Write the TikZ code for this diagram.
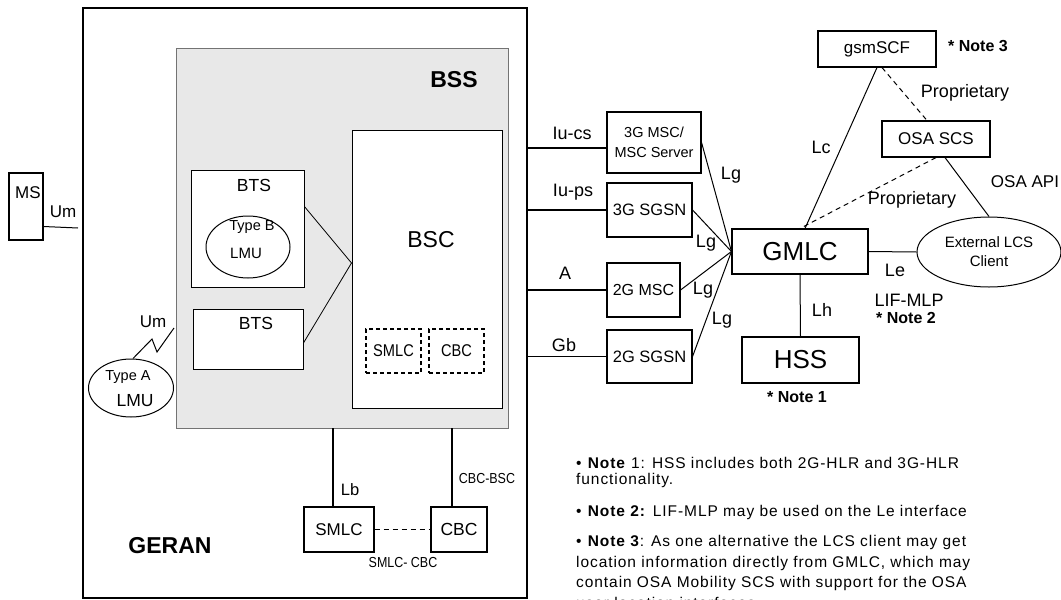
\documentclass[tikz,border=0pt]{standalone}
\usepackage{fontspec}
\setmainfont{Liberation Sans}
\newfontfamily\condf[FakeStretch=0.86]{Liberation Sans}
\newfontfamily\notef[LetterSpace=6]{Liberation Sans}
\usetikzlibrary{shapes.geometric}
\newcommand\fsz[1]{\fontsize{#1}{#1}\selectfont}
\begin{document}
\begin{tikzpicture}[x=1pt,y=-1pt,
 box/.style={draw,line width=1.1pt,fill=white,inner sep=0pt,rectangle},
 dbox/.style={draw,line width=1.1pt,dash pattern=on 4pt off 3pt,inner sep=0pt,fill=white,rectangle},
 oval/.style={draw,ellipse,line width=1pt,inner sep=0pt,fill=white},
 lbl/.style={inner sep=0pt,font=\fsz{18}},
 sml/.style={inner sep=0pt,font=\condf\fsz{14.5}},
 ln/.style={line width=1pt},
 dln/.style={line width=1pt,dash pattern=on 5pt off 4pt},
 note/.style={inner sep=0pt,anchor=west,font=\notef\fsz{15.5}}]
\useasboundingbox (0,0) rectangle (1061,600);
\clip (0,0) rectangle (1061,600);
% containers
\node[draw,line width=1.4pt,inner sep=0pt,minimum width=444pt,minimum height=590pt] (geran) at (305,303) {};
\node[draw=black!55,line width=0.8pt,fill=black!9,inner sep=0pt,minimum width=332pt,minimum height=380pt] (bss) at (342,238) {};
\node[inner sep=0pt,font=\bfseries\fsz{23}] (bsslbl) at (454,80) {BSS};
\node[inner sep=0pt,font=\bfseries\fsz{23}] (geranlbl) at (170,546) {GERAN};
% MS
\node[box,minimum width=34pt,minimum height=67pt] (ms) at (26,206.5) {};
\node[lbl,font=\fsz{17}] (mslbl) at (28,193) {MS};
\node[lbl,font=\fsz{17}] (um1) at (63,212) {Um};
\coordinate (msend) at (78,228);
\draw[ln] ([yshift=-20pt]ms.east) -- (msend);
% BTS
\node[box,line width=0.9pt,minimum width=113pt,minimum height=117pt] (bts1) at (247.5,228.5) {};
\node[lbl,font=\fsz{17.5}] (bts1lbl) at (254,185) {BTS};
\node[oval,minimum width=84pt,minimum height=62pt] (typeb) at (248,247) {};
\node[lbl,font=\fsz{14.5}] (typeblbl) at (252,227) {Type B};
\node[lbl,font=\fsz{15}] (lmub) at (246,253) {LMU};
\node[box,line width=0.9pt,minimum width=110pt,minimum height=60pt] (bts2) at (248,339) {};
\node[lbl,font=\fsz{17.5}] (bts2lbl) at (256,323) {BTS};
% BSC
\node[box,line width=1pt,minimum width=150pt,minimum height=278pt] (bsc) at (427,269) {};
\node[lbl,font=\fsz{23}] (bsclbl) at (431,240) {BSC};
\node[dbox,minimum width=55pt,minimum height=44pt,font=\condf\fsz{17}] (smlcin) at (393.5,351) {SMLC};
\node[dbox,minimum width=55pt,minimum height=44pt,font=\condf\fsz{17}] (cbcin) at (456.5,351) {CBC};
\draw[ln,line width=0.8pt] ([yshift=-37pt]bts1.north east) -- ([yshift=6pt]bsc.west);
\draw[ln,line width=0.8pt] ([yshift=-4pt]bts2.east) -- ([yshift=6pt]bsc.west);
% Type A LMU
\node[oval,minimum width=85pt,minimum height=58pt] (typea) at (131,388) {};
\node[lbl,font=\fsz{14.5}] (typealbl) at (128,377) {Type A};
\node[lbl,font=\fsz{17.5}] (lmua) at (135,401) {LMU};
\coordinate (zz) at (174,328);
\draw[ln] ([xshift=2pt]typea.north) -- (152,339) -- (157,352) -- (zz);
\node[lbl,font=\fsz{17}] (um2) at (153,322) {Um};
% SMLC / CBC
\node[box,minimum width=70pt,minimum height=45pt,font=\fsz{17}] (smlc) at (339,529.5) {SMLC};
\node[box,minimum width=56pt,minimum height=45pt,font=\fsz{17.5}] (cbc) at (459,529.5) {CBC};
\draw[line width=1.4pt] ([xshift=-6pt]smlc.north) -- ([xshift=-6pt]smlc.north |- bss.south);
\draw[line width=1.4pt] ([xshift=-7pt]cbc.north) -- ([xshift=-7pt]cbc.north |- bss.south);
\draw[dln] (smlc.east) -- (cbc.west);
\node[lbl,font=\fsz{16.5}] (lb) at (350,490) {Lb};
\node[sml] (cbcbsc) at (487,479) {CBC-BSC};
\node[sml] (smlccbc) at (403,563) {SMLC- CBC};
% core nodes
\node[box,minimum width=94pt,minimum height=61pt,align=center,font=\fsz{14.5}] (msc3g) at (654,142.5) {3G MSC/\\[5pt]MSC Server};
\node[box,minimum width=85pt,minimum height=54pt,font=\fsz{16.5}] (sgsn3g) at (649.5,210) {3G SGSN};
\node[box,minimum width=73pt,minimum height=54pt,font=\fsz{16}] (msc2g) at (643.5,290) {2G MSC};
\node[box,minimum width=85pt,minimum height=53pt,font=\fsz{16.5}] (sgsn2g) at (649.5,356.5) {2G SGSN};
\draw[line width=1.2pt] (msc3g.west |- 0,148) -- (geran.east |- 0,148);
\draw[line width=1.2pt] (sgsn3g.west) -- (sgsn3g.west -| geran.east);
\draw[line width=1.2pt] (msc2g.west) -- (msc2g.west -| geran.east);
\draw[line width=1.2pt] (sgsn2g.west) -- (sgsn2g.west -| geran.east);
\node[lbl] (iucs) at (572,133) {Iu-cs};
\node[lbl] (iups) at (573,192) {Iu-ps};
\node[lbl] (ia) at (565,273) {A};
\node[lbl] (gb) at (564,345) {Gb};
% GMLC
\node[box,minimum width=136pt,minimum height=45pt,font=\fsz{26}] (gmlc) at (800,251.5) {GMLC};
\node[box,minimum width=117pt,minimum height=46pt,font=\fsz{26}] (hss) at (800.5,360) {HSS};
\draw[ln] (msc3g.east) -- (gmlc.west);
\draw[ln] (sgsn3g.east) -- (gmlc.west);
\draw[ln] (msc2g.east) -- (gmlc.west);
\draw[ln] (sgsn2g.east) -- (gmlc.west);
\node[lbl] (lg1) at (731,175) {Lg};
\node[lbl] (lg2) at (706,243) {Lg};
\node[lbl] (lg3) at (703,290) {Lg};
\node[lbl] (lg4) at (722,320) {Lg};
\draw[ln] (gmlc.south) -- (hss.north);
\node[lbl] (lh) at (822,310) {Lh};
\node[inner sep=0pt,font=\bfseries\fsz{16}] (note1lbl) at (797,397) {* Note 1};
% external client
\node[oval,minimum width=144pt,minimum height=70pt,align=center,font=\fsz{15}] (ext) at (989,252) {External LCS\\[4pt]Client};
\draw[ln] (gmlc.east) -- (ext.west);
\node[lbl] (le) at (895,270) {Le};
\node[lbl] (lif) at (909,300) {LIF-MLP};
\node[inner sep=0pt,font=\bfseries\fsz{16}] (note2lbl) at (906,318) {* Note 2};
% gsmSCF / OSA
\node[box,minimum width=118pt,minimum height=36pt,font=\fsz{17}] (gsmscf) at (877,49) {gsmSCF};
\node[box,minimum width=108pt,minimum height=36pt,font=\fsz{17}] (osa) at (936,139) {OSA SCS};
\node[inner sep=0pt,font=\bfseries\fsz{16}] (note3lbl) at (978,46) {* Note 3};
\draw[ln] (gsmscf.south) -- ([xshift=5pt]gmlc.north);
\node[lbl] (lc) at (821,147) {Lc};
\draw[dln] ([xshift=5pt]gsmscf.south) -- ([xshift=-9pt]osa.north);
\node[lbl] (prop1) at (965,93) {Proprietary};
\draw[dln] (osa.south) -- (gmlc.north);
\node[lbl] (prop2) at (912,200) {Proprietary};
\draw[ln] ([xshift=9pt]osa.south) -- (ext.north);
\node[lbl,font=\fsz{17}] (osaapi) at (1025,182) {OSA API};
% notes
\node[note] (n1a) at (576,463) {\textbullet\ \textbf{Note} 1: HSS includes both 2G-HLR and 3G-HLR};
\node[note] (n1b) at (576,480) {functionality.};
\node[note] (n2) at (576,512) {\textbullet\ \textbf{Note 2:} LIF-MLP may be used on the Le interface};
\node[note] (n3a) at (576,542) {\textbullet\ \textbf{Note 3}: As one alternative the LCS client may get};
\node[note] (n3b) at (576,563) {location information directly from GMLC, which may};
\node[note] (n3c) at (576,583) {contain OSA Mobility SCS with support for the OSA};
\node[note] (n3d) at (576,603) {user location interfaces.};
\end{tikzpicture}
\end{document}
